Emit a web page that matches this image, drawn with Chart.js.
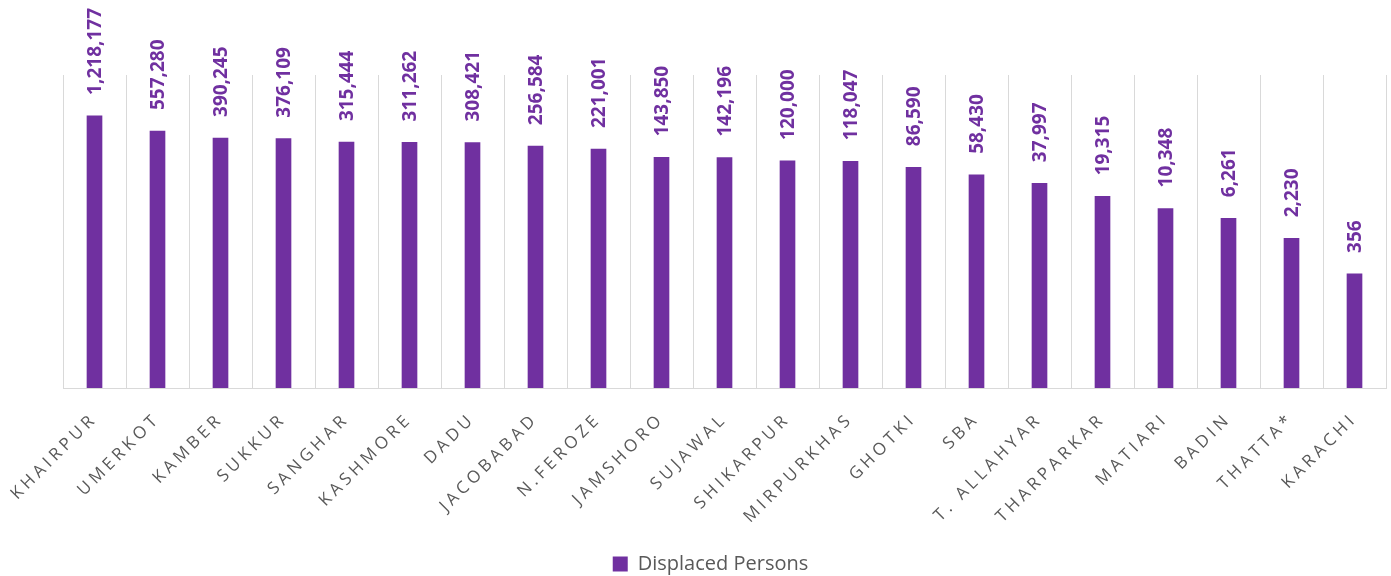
<!DOCTYPE html>
<html>
<head>
<meta charset="utf-8">
<script src="https://cdn.jsdelivr.net/npm/chart.js@4"></script>
<style>
  html, body { margin: 0; padding: 0; background: #fff; }
  #wrap { width: 1391px; height: 576px; }
</style>
</head>
<body>
<div id="wrap"><canvas id="chart" width="1391" height="576"></canvas></div>
<script>
const districts = ['KHAIRPUR', 'UMERKOT', 'KAMBER', 'SUKKUR', 'SANGHAR', 'KASHMORE', 'DADU',
  'JACOBABAD', 'N.FEROZE', 'JAMSHORO', 'SUJAWAL', 'SHIKARPUR', 'MIRPURKHAS', 'GHOTKI',
  'SBA', 'T. ALLAHYAR', 'THARPARKAR', 'MATIARI', 'BADIN', 'THATTA*', 'KARACHI'];
const displaced = [1218177, 557280, 390245, 376109, 315444, 311262, 308421,
  256584, 221001, 143850, 142196, 120000, 118047, 86590,
  58430, 37997, 19315, 10348, 6261, 2230, 356];

const PURPLE = '#7030A0';
const LETTER_SPACING = '4px';

// value labels above the bars, reading bottom-up
const barLabels = {
  id: 'barLabels',
  afterDatasetsDraw(chart) {
    const ctx = chart.ctx;
    const meta = chart.getDatasetMeta(0);
    ctx.save();
    ctx.letterSpacing = '0px';
    ctx.fillStyle = PURPLE;
    ctx.font = 'bold 19px "Open Sans"';
    ctx.textAlign = 'left';
    ctx.textBaseline = 'middle';
    meta.data.forEach((bar, i) => {
      ctx.save();
      ctx.translate(bar.x + 1, bar.y - 21);
      ctx.rotate(-Math.PI / 2);
      ctx.fillText(displaced[i].toLocaleString('en-US'), 0, 0);
      ctx.restore();
    });
    ctx.restore();
  }
};

// spaced-out category labels: only around the x scale's own label drawing
const spacedTicks = {
  id: 'spacedTicks',
  afterLayout(chart) {
    const s = chart.scales.x;
    if (!s || s._spaced) return;
    const orig = s.drawLabels;
    s.drawLabels = function (area) {
      this.ctx.letterSpacing = LETTER_SPACING;
      orig.call(this, area);
      this.ctx.letterSpacing = '0px';
    };
    s._spaced = true;
  }
};

new Chart(document.getElementById('chart'), {
  type: 'bar',
  data: {
    labels: districts,
    datasets: [{
      label: 'Displaced Persons',
      data: displaced,
      backgroundColor: PURPLE,
      barThickness: 15
    }]
  },
  options: {
    responsive: false,
    animation: false,
    layout: { padding: { top: 75, left: 35, right: 5, bottom: -8 } },
    plugins: {
      legend: {
        position: 'bottom',
        labels: {
          boxWidth: 15, boxHeight: 15, padding: 1,
          color: '#595959',
          font: { family: 'Open Sans', size: 20 }
        }
      },
      tooltip: { enabled: false }
    },
    scales: {
      x: {
        beforeUpdate(s) { s.ctx.letterSpacing = LETTER_SPACING; },
        afterUpdate(s) { s.ctx.letterSpacing = '0px'; },
        afterFit(s) { s.height = 165; s.paddingLeft = 63; },
        grid: { offset: true, color: '#d9d9d9', lineWidth: 1, drawTicks: false },
        border: { color: '#d9d9d9' },
        ticks: {
          color: '#595959',
          font: { family: 'Open Sans', size: 17 },
          minRotation: 45, maxRotation: 45,
          padding: 21,
          autoSkip: false
        }
      },
      y: {
        type: 'logarithmic',
        min: 1,
        max: 10000000,
        display: false
      }
    }
  },
  plugins: [barLabels, spacedTicks]
});
</script>
</body>
</html>
